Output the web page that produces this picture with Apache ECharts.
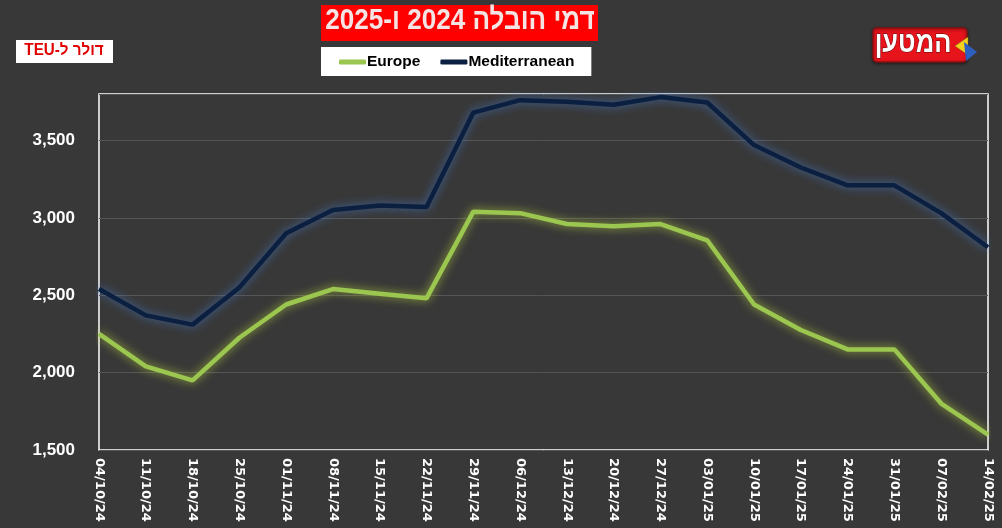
<!DOCTYPE html>
<html><head><meta charset="utf-8">
<script src="https://cdn.jsdelivr.net/npm/echarts@6/dist/echarts.min.js"></script>
<style>html,body{margin:0;padding:0;background:#383838}#c{width:1002px;height:528px}</style>
</head><body><div id="c"></div>
<script>
const categories = ['04/10/24','11/10/24','18/10/24','25/10/24','01/11/24','08/11/24','15/11/24','22/11/24','29/11/24','06/12/24','13/12/24','20/12/24','27/12/24','03/01/25','10/01/25','17/01/25','24/01/25','31/01/25','07/02/25','14/02/25'];
const europe = [2250,2040,1950,2225,2440,2540,2510,2480,3040,3030,2960,2945,2960,2855,2440,2275,2150,2150,1800,1600];
const mediterranean = [2540,2370,2310,2550,2900,3050,3080,3070,3680,3760,3750,3730,3780,3745,3470,3325,3210,3210,3030,2810];
const titleText = 'דמי הובלה 2024 ו-2025';
const unitText = 'דולר ל-TEU';
const logoText = 'המטען';
const rtl = s => '\u202B' + s + '\u202C';

const chart = echarts.init(document.getElementById('c'));
chart.setOption({
  backgroundColor: '#383838',
  animation: false,
  grid: {left: 99, right: 14, top: 94, bottom: 78, show: true, borderColor: '#ffffff', borderWidth: 1.5, backgroundColor: 'transparent'},
  legend: {
    left: 321, top: 47, width: 277, height: 29,
    backgroundColor: '#ffffff', padding: [7, 17, 6, 18], itemGap: 20,
    itemWidth: 27, itemHeight: 5, icon: 'roundRect',
    textStyle: {color: '#000', fontWeight: 'bold', fontSize: 15.5, padding: [0, 0, 0, -4], fontFamily: 'Liberation Sans, sans-serif'},
    data: ['Europe', 'Mediterranean']
  },
  xAxis: {
    type: 'category', data: categories, boundaryGap: false,
    axisLine: {show: false}, axisTick: {show: false},
    axisLabel: {rotate: -90, color: '#ffffff', fontWeight: 'bold', fontSize: 13, fontFamily: 'DejaVu Sans, sans-serif', margin: 8, interval: 0}
  },
  yAxis: {
    type: 'value', min: 1500, max: 3800, interval: 500,
    axisLine: {show: false}, axisTick: {show: false},
    splitLine: {lineStyle: {color: '#555555', width: 1}},
    axisLabel: {color: '#ffffff', fontWeight: 'bold', fontSize: 17, fontFamily: 'Liberation Sans, sans-serif', margin: 24,
      showMaxLabel: false,
      formatter: v => (v % 500 === 0 ? v.toLocaleString('en-US') : '')}
  },
  series: [
    {name: 'Europe', type: 'line', data: europe, symbol: 'none', color: '#9bc650',
     lineStyle: {width: 4.5, color: '#9bc650', shadowColor: 'rgba(190,220,60,0.75)', shadowBlur: 10}},
    {name: 'Mediterranean', type: 'line', data: mediterranean, symbol: 'none', color: '#0b1f40',
     lineStyle: {width: 4.5, color: '#0b1f40', shadowColor: 'rgba(70,120,200,0.8)', shadowBlur: 10}}
  ],
  graphic: [
    {type: 'rect', shape: {x: 321, y: 5, width: 277, height: 36}, style: {fill: '#ff0000'}},
    {type: 'text', x: 460, y: 6, scaleX: 0.87, style: {text: rtl(titleText), fill: '#f4e4e4', font: 'bold 30px "Liberation Sans", sans-serif', textAlign: 'center'}},
    {type: 'rect', shape: {x: 16, y: 40, width: 97, height: 23}, style: {fill: '#ffffff'}},
    {type: 'text', x: 64, y: 43, scaleX: 0.95, style: {text: rtl(unitText), fill: '#e00000', font: 'bold 16px "Liberation Sans", sans-serif', textAlign: 'center'}},
    {type: 'rect', shape: {x: 873, y: 28, width: 94, height: 34, r: 4}, style: {fill: '#e8141c', stroke: '#8a1010', lineWidth: 1.5, shadowColor: 'rgba(0,0,0,0.5)', shadowBlur: 3, shadowOffsetY: 1}},
    {type: 'text', x: 913, y: 29, scaleX: 0.85, style: {text: logoText, fill: '#ffffff', stroke: '#600000', lineWidth: 1, font: 'bold 30px "Liberation Sans", sans-serif', textAlign: 'center'}},
    {type: 'polygon', shape: {points: [[955, 46], [968, 37], [968, 55]]}, style: {fill: '#f2d21e', stroke: '#8a7010', lineWidth: 0.5}},
    {type: 'polygon', shape: {points: [[964, 42], [977, 52], [966, 61]]}, style: {fill: '#2d5fc0'}}
  ]
});
</script></body></html>
